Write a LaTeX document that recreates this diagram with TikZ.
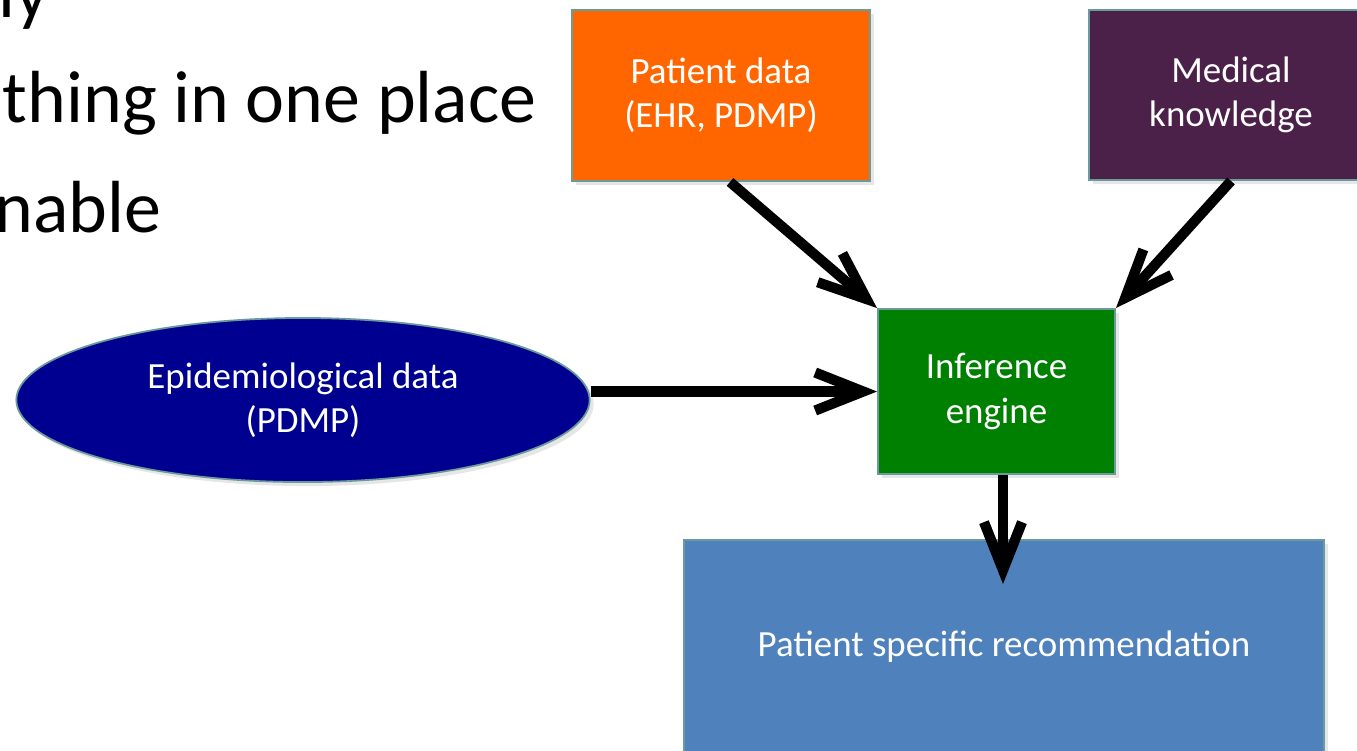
\documentclass[tikz,border=0pt]{standalone}
\usepackage{fontspec}
\setmainfont{Carlito}
\usetikzlibrary{arrows.meta,shapes.geometric,shadows}
\definecolor{pdorange}{HTML}{FF6600}
\definecolor{mkpurple}{HTML}{4B2149}
\definecolor{iegreen}{HTML}{008000}
\definecolor{epinavy}{HTML}{000090}
\definecolor{recblue}{HTML}{4F81BD}
\definecolor{edgegray}{HTML}{6A9A9A}
\begin{document}
\begin{tikzpicture}[x=0.01cm,y=-0.01cm,
  box/.style={draw=edgegray,line width=0.5pt,text=white,align=center,inner sep=2pt,font=\fontsize{10.5}{12.6}\selectfont,drop shadow={opacity=0.2,shadow xshift=0.4mm,shadow yshift=-0.4mm}},
  slide/.style={anchor=base east,inner sep=0pt,font=\fontsize{21}{25}\selectfont},
  arr/.style={line width=2.9pt,-{Straight Barb[length=4.8mm,width=3.8mm]}}]
\useasboundingbox (0,0) rectangle (1357,750);
\begin{scope}
\clip (0,0) rectangle (1357,750);
% cut-off slide text on the left
\node[slide] (ln1) at (50,17) {kly}; \node[slide] (ln2) at (537,122) {thing in one place}; \node[slide] (ln3) at (162,232) {nable};
% sources, engine, output
\node[box,fill=pdorange,minimum width=2.98cm,minimum height=1.71cm] (pat) at (721,95.5) {Patient data\\(EHR, PDMP)};
\node[box,fill=mkpurple,minimum width=2.84cm,minimum height=1.70cm] (med) at (1231,95) {Medical\\knowledge};
\node[box,fill=iegreen,minimum width=2.37cm,minimum height=1.65cm] (inf) at (996.5,391.5) {Inference\\engine};
\node[box,ellipse,fill=epinavy,minimum width=5.73cm,minimum height=1.64cm] (epi) at (303,400) {Epidemiological data\\(PDMP)};
\node[box,fill=recblue,minimum width=6.40cm,minimum height=2.14cm] (rec) at (1004,647) {Patient specific recommendation};
% arrows into and out of the engine
\draw[arr] ([xshift=0.09cm]pat.south) -- (inf.north west); \draw[arr] (med.south) -- (inf.north east);
\draw[arr] (epi.east |- inf.west) -- (inf.west);
\coordinate (dntip) at (1003,584); \draw[arr] (inf.south -| dntip) -- (dntip);
\end{scope}
\end{tikzpicture}
\end{document}
